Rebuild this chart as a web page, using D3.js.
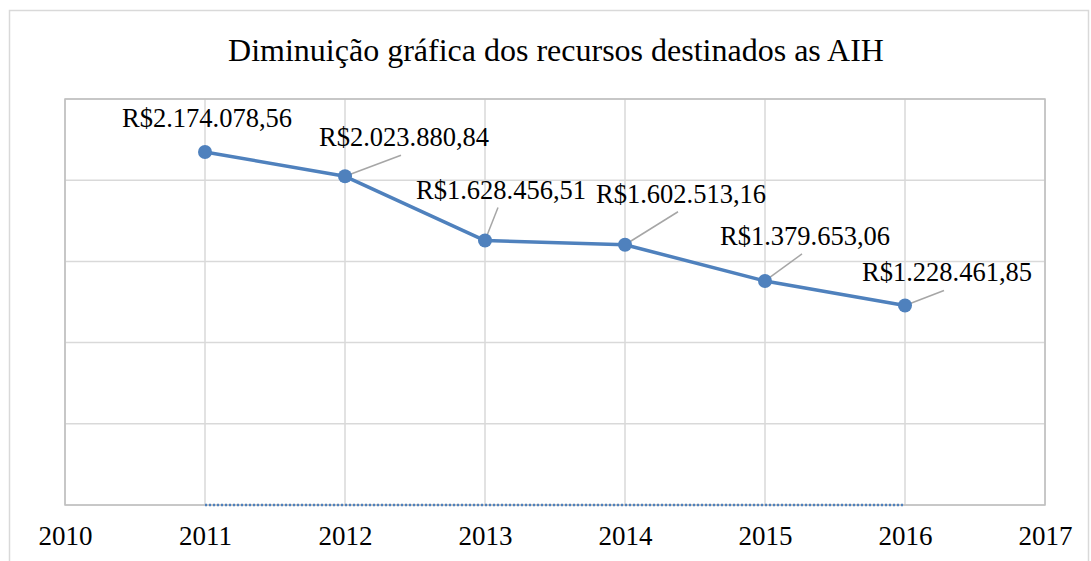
<!DOCTYPE html>
<html><head><meta charset="utf-8">
<script src="https://cdn.jsdelivr.net/npm/d3@7"></script>
<style>body{margin:0;background:#fff}svg{display:block}text{font-family:"Liberation Serif","Times New Roman",serif;fill:#000}</style>
</head><body>
<svg id="c" width="1091" height="561"></svg>
<script>
const years = [2011, 2012, 2013, 2014, 2015, 2016];
const values = [2174078.56, 2023880.84, 1628456.51, 1602513.16, 1379653.06, 1228461.85];
const zeroSeries = [0, 0, 0, 0, 0, 0];
const labels = ["R$2.174.078,56", "R$2.023.880,84", "R$1.628.456,51", "R$1.602.513,16", "R$1.379.653,06", "R$1.228.461,85"];
const xTicks = [2010, 2011, 2012, 2013, 2014, 2015, 2016, 2017];
const yTicks = [0, 500000, 1000000, 1500000, 2000000, 2500000];
const title = "Diminuição gráfica dos recursos destinados as AIH";

const svg = d3.select("#c");
const L = 65, R = 1045, T = 99, B = 505;
const x = d3.scaleLinear().domain([2010, 2017]).range([L, R]);
const y = d3.scaleLinear().domain([0, 2500000]).range([B, T]);

// outer chart border
svg.append("rect").attr("x", 9.5).attr("y", 10.5).attr("width", 1079).attr("height", 570)
  .attr("fill", "#fff").attr("stroke", "#d9d9d9").attr("stroke-width", 1.5);

svg.append("text").attr("x", 556).attr("y", 61).attr("text-anchor", "middle")
  .style("font-size", "32px").text(title);

// gridlines
svg.append("g").selectAll("line").data(yTicks).join("line")
  .attr("x1", L).attr("x2", R).attr("y1", d => y(d)).attr("y2", d => y(d))
  .attr("stroke", "#d9d9d9").attr("stroke-width", 1.5);
svg.append("g").selectAll("line").data(xTicks).join("line")
  .attr("x1", d => x(d)).attr("x2", d => x(d)).attr("y1", T).attr("y2", B)
  .attr("stroke", "#d9d9d9").attr("stroke-width", 1.5);
// plot border
svg.append("rect").attr("x", L).attr("y", T).attr("width", R - L).attr("height", B - T)
  .attr("fill", "none").attr("stroke", "#bfbfbf").attr("stroke-width", 1.5);

// x axis labels
const xAxis = d3.axisBottom(x).tickValues(xTicks).tickFormat(d3.format("d")).tickSize(0).tickPadding(0);
const gx = svg.append("g").attr("transform", `translate(0,${B})`).call(xAxis);
gx.select(".domain").remove();
gx.selectAll("text").attr("dy", null).attr("y", 40).style("font-size", "27px")
  .style("font-family", '"Liberation Serif","Times New Roman",serif').attr("fill", "#000");

// zero dotted series
svg.append("path").datum(zeroSeries)
  .attr("d", d3.line().x((d, i) => x(years[i])).y(d => y(d)))
  .attr("fill", "none").attr("stroke", "#4f81bd").attr("stroke-width", 2.5).attr("stroke-dasharray", "2,2");

// main series
svg.append("path").datum(values)
  .attr("d", d3.line().x((d, i) => x(years[i])).y(d => y(d)))
  .attr("fill", "none").attr("stroke", "#4f81bd").attr("stroke-width", 3.5).attr("stroke-linejoin", "round");

// label layout offsets (dx to text center, dy to baseline) and leader flag
const offs = [[2, -25, 0], [59, -30, 1], [16, -42, 1], [56, -42, 1], [40, -36, 1], [42, -24, 1]];
const lab = svg.append("g");
values.forEach((v, i) => {
  const px = x(years[i]), py = y(v), o = offs[i];
  if (o[2]) {
    lab.append("line").attr("x1", px).attr("y1", py).attr("x2", px + o[0] - 3).attr("y2", py + o[1] + 9)
      .attr("stroke", "#a6a6a6").attr("stroke-width", 1.5);
  }
});
svg.append("g").selectAll("circle").data(values).join("circle")
  .attr("cx", (d, i) => x(years[i])).attr("cy", d => y(d)).attr("r", 7).attr("fill", "#4f81bd");
values.forEach((v, i) => {
  const px = x(years[i]), py = y(v), o = offs[i];
  lab.append("text").attr("x", px + o[0]).attr("y", py + o[1]).attr("text-anchor", "middle")
    .style("font-size", "26.5px").text(labels[i]);
});
</script>
</body></html>
